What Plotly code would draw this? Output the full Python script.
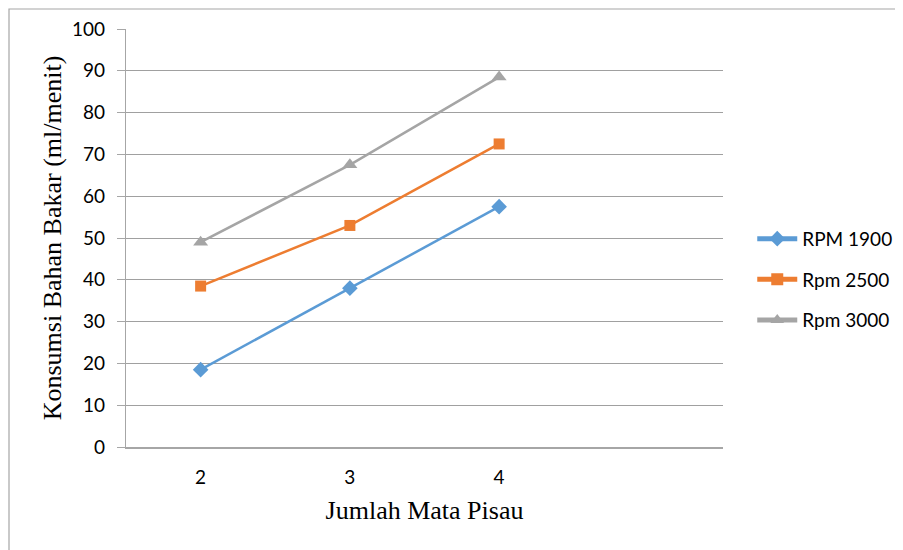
import plotly.graph_objects as go

jumlah_mata_pisau = [2, 3, 4]
rpm_1900 = [18.5, 38, 57.5]
rpm_2500 = [38.5, 53, 72.5]
rpm_3000 = [49, 67.5, 88.5]
y_ticks = [0, 10, 20, 30, 40, 50, 60, 70, 80, 90, 100]

fig = go.Figure()
series = [
    ("RPM 1900", rpm_1900, "#5b9bd5", "diamond", 12),
    ("Rpm 2500", rpm_2500, "#ed7d31", "square", 11),
    ("Rpm 3000", rpm_3000, "#a5a5a5", "triangle-up", 13),
]
for name, vals, col, sym, sz in series:
    fig.add_trace(go.Scatter(
        x=jumlah_mata_pisau, y=vals, name=name, mode="lines+markers",
        legendgroup=name,
        line=dict(color=col, width=2.5),
        marker=dict(symbol=sym, size=sz, color=col),
    ))

L, T, PW, PH = 118, 21, 597, 418
W, H = 895, 542
fig.update_layout(
    width=W, height=H,
    margin=dict(l=L, r=W - L - PW, t=T, b=H - T - PH, autoexpand=False),
    paper_bgcolor="white", plot_bgcolor="white",
    font=dict(family="Lato", size=19, color="#000000"),
    legend=dict(x=1.049, y=0.4, xanchor="left", yanchor="middle",
                font=dict(family="Lato", size=19), tracegroupgap=13,
                itemsizing="constant", itemwidth=40),
    xaxis=dict(
        range=[1.5, 5.5], tickvals=jumlah_mata_pisau, ticktext=[str(v) for v in jumlah_mata_pisau],
        showgrid=False, showline=True, linecolor="#a6a6a6", linewidth=1.5,
        ticks="", zeroline=False, ticklabelstandoff=12,
        title=dict(text="Jumlah Mata Pisau", font=dict(family="Liberation Serif", size=26), standoff=14),
    ),
    yaxis=dict(
        range=[0, 100], tickvals=y_ticks, showgrid=True, gridcolor="#a0a0a0", gridwidth=1.2,
        showline=True, linecolor="#a6a6a6", linewidth=1.2, ticks="outside", ticklen=8,
        tickcolor="#a6a6a6", zeroline=False, ticklabelstandoff=8,
        title=dict(text="Konsumsi Bahan Bakar (ml/menit)", font=dict(family="Liberation Serif", size=26), standoff=2),
    ),
    shapes=[dict(type="rect", xref="paper", yref="paper",
                 x0=(1 - L) / PW, x1=(W + 20 - L) / PW,
                 y0=-(H + 20 - T - PH) / PH, y1=(PH + T - 1) / PH,
                 line=dict(color="#a6a6a6", width=1.2), layer="below")],
)

fig.write_html("out.html")
